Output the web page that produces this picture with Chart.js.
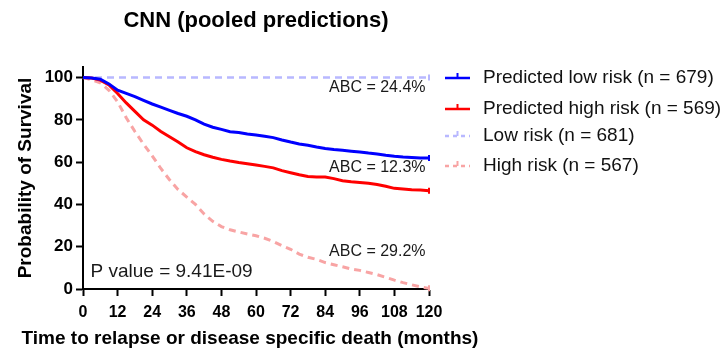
<!DOCTYPE html>
<html>
<head>
<meta charset="utf-8">
<script src="https://cdn.jsdelivr.net/npm/chart.js@4.4.1/dist/chart.umd.min.js"></script>
<style>
  html, body { margin: 0; padding: 0; background: #fff; }
  #wrap { width: 721px; height: 354px; position: relative; }
</style>
</head>
<body>
<div id="wrap"><canvas id="km"></canvas></div>
<script>
// Kaplan-Meier curves (survival in %, by month)
const months = [0, 3, 6, 9, 12, 15, 18, 21, 24, 27, 30, 33, 36, 39, 42, 45, 48, 51, 54, 57, 60,
  63, 66, 69, 72, 75, 78, 81, 84, 87, 90, 93, 96, 99, 102, 105, 108, 111, 114, 117, 120];
const predLowRisk = [100, 99.8, 99.2, 97, 94, 92.5, 91, 89.2, 87.5, 86, 84.5, 83, 81.7, 80, 78, 76.5, 75.5, 74.4, 74, 73.3, 72.8,
  72.2, 71.6, 70.5, 69.5, 68.6, 68, 67.2, 66.5, 66, 65.6, 65.2, 64.8, 64.3, 63.9, 63.3, 62.8, 62.4, 62.2, 62, 62];
const predHighRisk = [100, 99.8, 98.8, 96.5, 92.5, 88, 84, 80, 77.5, 74.5, 72, 69.5, 66.8, 65, 63.5, 62.3, 61.3, 60.5, 59.8, 59.2, 58.6,
  58, 57.3, 56, 55, 54, 53.2, 53, 53, 52.2, 51.2, 50.7, 50.4, 50, 49.4, 48.6, 47.6, 47.3, 47, 46.8, 46.5];
const lowRiskMonths = [0, 120];
const lowRisk = [100, 100];
const highRisk = [100, 99, 97.5, 94, 88.5, 81, 74.5, 68.5, 63, 57, 51.7, 47, 43.5, 40, 35.5, 32, 29.5, 28, 27, 26, 25.2,
  24, 22.5, 20.5, 18.8, 16.5, 15, 14, 12.5, 11.5, 10.5, 9.5, 8.8, 7.8, 6.8, 5.5, 4.2, 3, 2, 1, 0.3];

const seriesLabels = ['Predicted low risk (n = 679)', 'Predicted high risk (n = 569)', 'Low risk (n = 681)', 'High risk (n = 567)'];
const xTicks = [0, 12, 24, 36, 48, 60, 72, 84, 96, 108, 120];
const yTicks = [0, 20, 40, 60, 80, 100];
const abcLabels = ['ABC = 24.4%', 'ABC = 12.3%', 'ABC = 29.2%'];
const pValueText = 'P value = 9.41E-09';
const chartTitle = 'CNN (pooled predictions)';
const xTitle = 'Time to relapse or disease specific death (months)';

const FONT = '"Liberation Sans", Arial, Helvetica, sans-serif';

function pts(xs, ys) { return xs.map((m, i) => ({ x: m, y: ys[i] })); }
function endTick(ctx) { return ctx.dataIndex === ctx.dataset.data.length - 1 ? 3 : 0; }

// title, x-axis title, legend and text notes drawn on the canvas
const decor = {
  id: 'decor',
  afterDraw(chart) {
    const { ctx, chartArea: a, scales: { x, y } } = chart;
    ctx.save();
    ctx.textBaseline = 'middle';
    ctx.fillStyle = '#000';
    ctx.font = 'bold 22px ' + FONT;
    ctx.textAlign = 'center';
    ctx.fillText(chartTitle, (a.left + a.right) / 2, 21);

    ctx.font = 'bold 19px ' + FONT;
    ctx.fillText(xTitle, 250, 339);

    ctx.fillStyle = '#1a1a1a';
    ctx.font = '16px ' + FONT;
    ctx.textAlign = 'right';
    const abcY = [95.3, 57.3, 17.5];
    abcLabels.forEach((t, i) => ctx.fillText(t, x.getPixelForValue(118.8), y.getPixelForValue(abcY[i])));

    ctx.font = '19px ' + FONT;
    ctx.textAlign = 'left';
    ctx.fillText(pValueText, x.getPixelForValue(2.6), y.getPixelForValue(8));

    // legend
    const rows = [78, 109, 136, 166];
    chart.data.datasets.forEach((ds, i) => {
      const ly = rows[i];
      ctx.strokeStyle = ds.borderColor;
      ctx.lineWidth = 2.5;
      ctx.setLineDash(ds.borderDash ? [4, 4] : []);
      ctx.beginPath();
      ctx.moveTo(445, ly); ctx.lineTo(470, ly);
      ctx.stroke();
      ctx.setLineDash([]);
      ctx.lineWidth = 2;
      ctx.beginPath();
      ctx.moveTo(457.5, ly); ctx.lineTo(457.5, ly - 5);
      ctx.stroke();
      ctx.fillStyle = '#111';
      ctx.font = '19px ' + FONT;
      ctx.fillText(ds.label, 483, ly);
    });
    ctx.restore();
  }
};

new Chart(document.getElementById('km'), {
  type: 'line',
  data: {
    datasets: [
      {
        label: seriesLabels[0],
        data: pts(months, predLowRisk),
        borderColor: '#0000ff',
        borderWidth: 3
      },
      {
        label: seriesLabels[1],
        data: pts(months, predHighRisk),
        borderColor: '#ff0000',
        borderWidth: 3
      },
      {
        label: seriesLabels[2],
        data: pts(lowRiskMonths, lowRisk),
        borderColor: '#b8b8ff',
        borderWidth: 2.5,
        borderDash: [7, 5]
      },
      {
        label: seriesLabels[3],
        data: pts(months, highRisk),
        borderColor: '#f8a4a4',
        borderWidth: 3,
        borderDash: [7, 5]
      }
    ].map(ds => Object.assign(ds, {
      fill: false,
      tension: 0,
      pointStyle: 'line',
      rotation: 90,
      pointRadius: endTick,
      pointHoverRadius: endTick,
      pointBorderColor: ds.borderColor,
      pointBorderWidth: 2
    }))
  },
  options: {
    responsive: true,
    maintainAspectRatio: false,
    animation: false,
    clip: false,
    layout: { padding: { top: 67, right: 292, left: 0, bottom: 0 } },
    plugins: {
      legend: { display: false },
      title: { display: false },
      tooltip: { enabled: false }
    },
    scales: {
      x: {
        type: 'linear',
        min: 0,
        max: 120,
        afterFit: s => { s.height = 65; },
        afterBuildTicks: s => { s.ticks = xTicks.map(v => ({ value: v })); },
        border: { display: true, color: '#000', width: 2 },
        grid: { drawOnChartArea: false, drawTicks: true, tickLength: 7, tickWidth: 2, tickColor: '#000' },
        ticks: { color: '#000', padding: 7, maxRotation: 0, autoSkip: false, font: { family: FONT, size: 16, weight: 'bold' } },
        title: { display: false }
      },
      y: {
        min: 0,
        max: 105,
        afterFit: s => { s.width = 83; },
        afterBuildTicks: s => { s.ticks = yTicks.map(v => ({ value: v })); },
        border: { display: true, color: '#000', width: 2 },
        grid: { drawOnChartArea: false, drawTicks: true, tickLength: 7, tickWidth: 2, tickColor: '#000' },
        ticks: { color: '#000', padding: 3, font: { family: FONT, size: 17, weight: 'bold' } },
        title: {
          display: true,
          text: 'Probability of Survival',
          color: '#000',
          padding: { top: 14, bottom: 0 },
          font: { family: FONT, size: 19, weight: 'bold' }
        }
      }
    }
  },
  plugins: [decor]
});
</script>
</body>
</html>
